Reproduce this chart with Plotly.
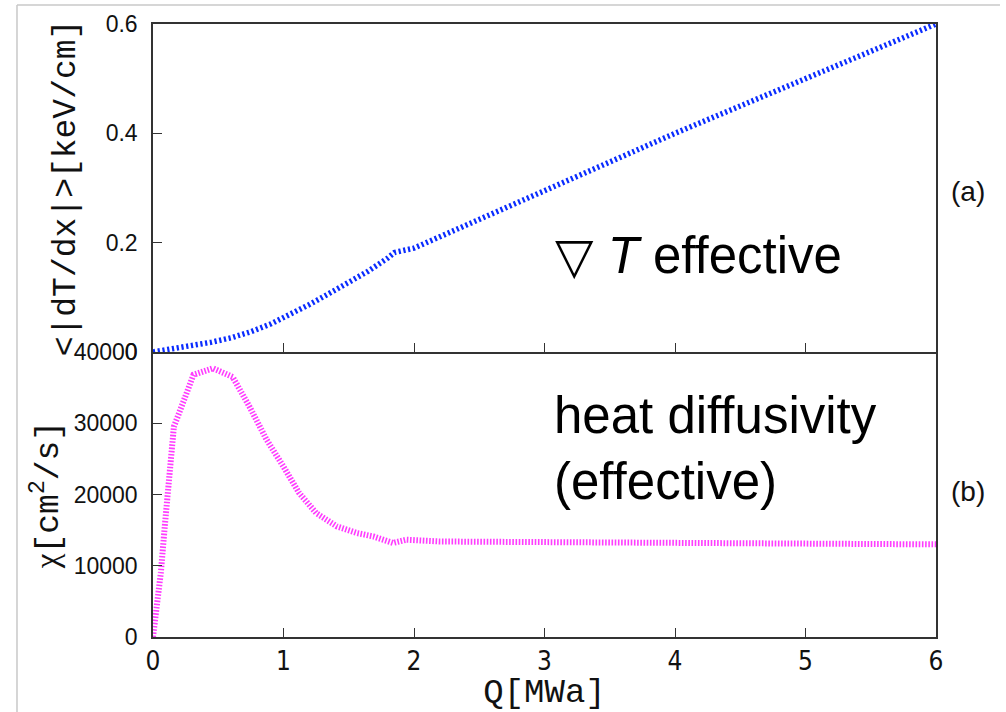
import plotly.graph_objects as go

# Effective temperature gradient vs. heating power
q_grad = [0, 0.15, 0.3, 0.45, 0.6, 0.75, 0.9, 1.05, 1.2, 1.35, 1.5, 1.65, 1.8,
          1.85, 2.0, 2.5, 3.0, 3.5, 4.0, 4.5, 5.0, 5.5, 6.0]
grad_t = [0.0, 0.006, 0.011, 0.018, 0.026, 0.037, 0.051, 0.068, 0.087, 0.107,
          0.127, 0.148, 0.172, 0.182, 0.19, 0.243, 0.296, 0.348, 0.400, 0.45,
          0.50, 0.55, 0.60]

# Effective heat diffusivity vs. heating power
q_chi = [0, 0.03, 0.06, 0.09, 0.13, 0.16, 0.21, 0.26, 0.31, 0.46, 0.61, 0.74,
         0.87, 1.0, 1.12, 1.25, 1.41, 1.56, 1.69, 1.84, 1.94, 2.2, 3, 4, 5, 6]
chi = [0, 4300, 9000, 15500, 23000, 29500, 31900, 34200, 36800, 37700, 36500,
       32300, 27700, 23900, 20200, 17400, 15500, 14600, 14100, 13200, 13650,
       13400, 13300, 13200, 13100, 13000]

x_ticks = [0, 1, 2, 3, 4, 5, 6]
grad_ticks = [0, 0.2, 0.4, 0.6]
grad_labels = ["0", "0.2", "0.4", "0.6"]
chi_ticks = [0, 10000, 20000, 30000, 40000]
chi_labels = ["0", "10000", "20000", "30000", "40000"]

MONO = "Liberation Mono, Courier New, monospace"
SANS = "Liberation Sans, Arial, Helvetica, sans-serif"
NARROW = "Liberation Sans Narrow, DejaVu Sans Condensed, Arial Narrow, Liberation Sans, sans-serif"
FRAME = "#333333"
INK = "#111111"

fig = go.Figure()

fig.add_trace(go.Scatter(
    x=q_grad, y=grad_t, xaxis="x2", yaxis="y2", mode="lines",
    line=dict(color="#0a2cff", width=5.5, dash="2.2px,2.6px"),
    showlegend=False, hoverinfo="skip"))

fig.add_trace(go.Scatter(
    x=q_chi, y=chi, xaxis="x", yaxis="y", mode="lines",
    line=dict(color="#ff3cff", width=6, dash="1.6px,1.6px"),
    showlegend=False, hoverinfo="skip"))

split = 0.465

common_x = dict(range=[0, 6], tickvals=x_ticks, ticks="inside", ticklen=9,
                tickwidth=1.3, tickcolor=FRAME, showline=True, linecolor=FRAME,
                linewidth=1.5, showgrid=False, zeroline=False, automargin=False)
common_y = dict(ticks="inside", ticklen=9, tickwidth=1.3, tickcolor=FRAME,
                showline=True, linecolor=FRAME, linewidth=1.5, mirror=True,
                showgrid=False, zeroline=False, automargin=False,
                ticklabelstandoff=9,
                tickfont=dict(family=SANS, size=23, color=INK))

fig.update_layout(
    width=1006, height=712,
    margin=dict(l=153, r=70, t=24, b=75),
    paper_bgcolor="white", plot_bgcolor="white",
    # bottom panel: its top edge is the top panel's bottom axis line
    xaxis=dict(**common_x, anchor="y", mirror=False,
               ticklabelstandoff=0,
               tickfont=dict(family=NARROW, size=26, color=INK),
               title=dict(text="Q[MWa]", standoff=2,
                          font=dict(family=MONO, size=34, color=INK))),
    xaxis2=dict(**common_x, anchor="y2", matches="x", mirror=True,
                showticklabels=False),
    yaxis=dict(**common_y, domain=[0, split], range=[0, 40000],
               tickvals=chi_ticks, ticktext=chi_labels,
               title=dict(text="<span style=\"font-family:Liberation Serif,serif\">χ</span>[cm<sup>2</sup>/s]",
                          standoff=5,
                          font=dict(family=MONO, size=33, color=INK))),
    yaxis2=dict(**common_y, domain=[split, 1], range=[0, 0.6],
                tickvals=grad_ticks, ticktext=grad_labels,
                title=dict(text="&lt;|dT/dx|&gt;[keV/cm]", standoff=20,
                           font=dict(family=MONO, size=33, color=INK))),
)

# thin grey border along the top and left of the page
fig.add_shape(type="line", xref="paper", yref="paper",
              x0=-0.1737, x1=1.0817, y0=1.031, y1=1.031,
              line=dict(color="#c8c8c8", width=1.5))
fig.add_shape(type="line", xref="paper", yref="paper",
              x0=-0.1737, x1=-0.1737, y0=1.031, y1=-0.13,
              line=dict(color="#c8c8c8", width=1.5))

fig.add_annotation(xref="paper", yref="paper", x=0.5109, y=0.622,
                   xanchor="left", yanchor="middle", showarrow=False,
                   text="<span style=\"font-family:DejaVu Sans;font-size:50px\">▽</span> <i>T</i> effective",
                   font=dict(family=SANS, size=51, color="black"))
fig.add_annotation(xref="paper", yref="paper", x=0.5096, y=0.308,
                   xanchor="left", yanchor="middle", showarrow=False, align="left",
                   text="heat diffusivity<br>(effective)",
                   font=dict(family=SANS, size=51, color="black"))
fig.add_annotation(xref="paper", yref="paper", x=1.016, y=0.727,
                   xanchor="left", yanchor="middle", showarrow=False,
                   text="(a)", font=dict(family=SANS, size=28, color=INK))
fig.add_annotation(xref="paper", yref="paper", x=1.016, y=0.2378,
                   xanchor="left", yanchor="middle", showarrow=False,
                   text="(b)", font=dict(family=SANS, size=28, color=INK))

fig.write_html("out.html")
